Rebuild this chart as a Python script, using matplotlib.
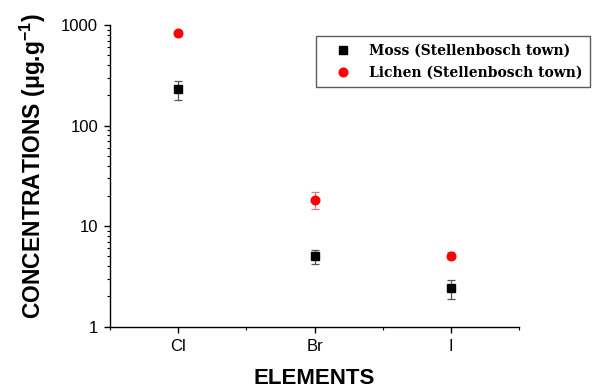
import matplotlib
matplotlib.use("Agg")
import matplotlib.pyplot as plt
from matplotlib.ticker import LogLocator, FixedLocator, NullFormatter

elements = ["Cl", "Br", "I"]
moss = [229, 5.0, 2.41]
moss_err = [48, 0.8, 0.52]
lichen = [828, 18.3, 5.1]
lichen_err = [50, 3.5, 0.42]

plt.rcParams["font.family"] = ["Liberation Sans", "DejaVu Sans"]
plt.rcParams["mathtext.fontset"] = "custom"
plt.rcParams["mathtext.rm"] = "Liberation Sans"
plt.rcParams["mathtext.bf"] = "Liberation Sans:bold"

fig = plt.figure(figsize=(5.96, 3.89), dpi=100)
ax = fig.add_axes([0.1846, 0.160, 0.6862, 0.7757])

x = list(range(1, len(elements) + 1))

ax.errorbar(x, moss, yerr=moss_err, fmt="s", color="black", ms=5.8,
            ecolor="#555555", elinewidth=0.9, capsize=2.6, capthick=0.9,
            label="Moss (Stellenbosch town)", zorder=3)
ax.errorbar(x, lichen, yerr=lichen_err, fmt="o", color="#ff0000", ms=6.2,
            ecolor="#d08080", elinewidth=0.9, capsize=2.6, capthick=0.9,
            label="Lichen (Stellenbosch town)", zorder=3)

ax.set_yscale("log")
ax.set_ylim(1, 1000)
ax.set_xlim(0.5, 3.5)
ax.set_xticks(x)
ax.set_xticklabels(elements)
ax.xaxis.set_minor_locator(FixedLocator([0.5, 1.5, 2.5, 3.5]))
ax.yaxis.set_minor_locator(LogLocator(base=10, subs=range(2, 10), numticks=20))
ax.yaxis.set_minor_formatter(NullFormatter())
ax.set_yticks([1, 10, 100, 1000])
ax.set_yticklabels(["1", "10", "100", "1000"])

for side in ("top", "right"):
    ax.spines[side].set_visible(False)
for side in ("left", "bottom"):
    ax.spines[side].set_linewidth(1.0)

ax.tick_params(which="major", direction="out", length=4.5, width=1.0,
               labelsize=12, pad=4)
ax.tick_params(which="minor", direction="out", length=2.5, width=0.8)

ax.set_xlabel("ELEMENTS", fontsize=16, fontweight="bold", labelpad=10.5)
ax.set_ylabel(r"CONCENTRATIONS ($\mathbf{\mu}$g.g$^{\mathbf{-1}}$)",
              fontsize=16.5, fontweight="bold")
ax.yaxis.set_label_coords(-0.152, 0.533)

handles, labels = ax.get_legend_handles_labels()
handles = [h[0] for h in handles]
leg = fig.legend(handles, labels, loc="upper left",
                 bbox_to_anchor=(0.530, 0.908), frameon=True, fancybox=False,
                 shadow=False,
                 prop={"family": "DejaVu Serif", "weight": "bold", "size": 10.0},
                 handlelength=2.8, handletextpad=0.5, borderpad=0.55,
                 labelspacing=0.6, borderaxespad=0)
leg.get_frame().set_edgecolor("#333333")
leg.get_frame().set_linewidth(1.0)

fig.savefig("out.png", dpi=100)
